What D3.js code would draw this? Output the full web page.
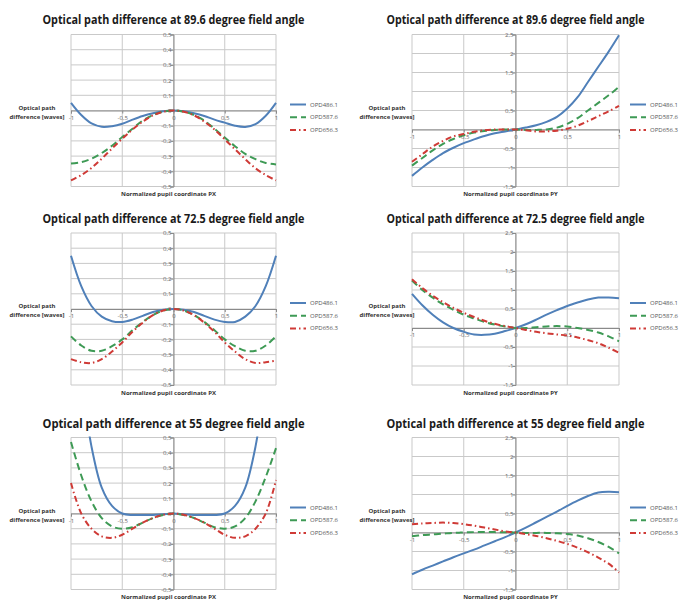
<!DOCTYPE html>
<html><head><meta charset="utf-8">
<script src="https://cdn.jsdelivr.net/npm/d3@7"></script>
<style>body{margin:0;background:#fff}svg{display:block}</style>
</head><body><svg id="c" width="699" height="601"></svg>
<script>
// ---------------- data ----------------
const pupil = [-1,-0.9,-0.8,-0.7,-0.6,-0.5,-0.4,-0.3,-0.2,-0.1,0,0.1,0.2,0.3,0.4,0.5,0.6,0.7,0.8,0.9,1];
const seriesNames = ["OPD486.1","OPD587.6","OPD656.3"];
const panelTitles = [
  "Optical path difference at 89.6 degree field angle",
  "Optical path difference at 89.6 degree field angle",
  "Optical path difference at 72.5 degree field angle",
  "Optical path difference at 72.5 degree field angle",
  "Optical path difference at 55 degree field angle",
  "Optical path difference at 55 degree field angle"
];
const xAxisTitles = ["Normalized pupil coordinate PX","Normalized pupil coordinate PY"];
const yAxisTitle = ["Optical path","difference [waves]"];
const xTicks = [-1,-0.5,0,0.5,1];
const yTicksPX = [-0.5,-0.4,-0.3,-0.2,-0.1,0,0.1,0.2,0.3,0.4,0.5];
const yTicksPY = [-1.5,-1,-0.5,0,0.5,1,1.5,2,2.5];

// 89.6 deg, PX
const a896PX_486 = [0.05,-0.03,-0.085,-0.107,-0.103,-0.087,-0.06,-0.036,-0.018,-0.005,0,-0.005,-0.018,-0.036,-0.06,-0.08,-0.1,-0.108,-0.09,-0.035,0.05];
const a896PX_587 = [-0.349,-0.34,-0.317,-0.28,-0.232,-0.175,-0.12,-0.066,-0.03,-0.008,0,-0.008,-0.03,-0.066,-0.12,-0.178,-0.235,-0.285,-0.32,-0.345,-0.355];
const a896PX_656 = [-0.46,-0.425,-0.378,-0.317,-0.25,-0.186,-0.125,-0.073,-0.032,-0.008,0,-0.008,-0.032,-0.073,-0.125,-0.19,-0.255,-0.32,-0.38,-0.425,-0.46];
// 89.6 deg, PY
const a896PY_486 = [-1.22,-1.0,-0.8,-0.62,-0.48,-0.36,-0.26,-0.17,-0.1,-0.05,0,0.05,0.11,0.2,0.33,0.55,0.85,1.25,1.65,2.05,2.48];
const a896PY_587 = [-0.95,-0.75,-0.55,-0.38,-0.25,-0.15,-0.08,-0.04,-0.01,0,0,-0.01,-0.01,0,0.05,0.15,0.3,0.5,0.7,0.9,1.12];
const a896PY_656 = [-0.85,-0.65,-0.45,-0.3,-0.18,-0.12,-0.06,-0.02,0,0,0,-0.02,-0.05,-0.05,-0.03,0.02,0.1,0.22,0.35,0.48,0.62];
// 72.5 deg, PX
const a725PX_486 = [0.35,0.15,0.02,-0.05,-0.08,-0.085,-0.07,-0.045,-0.02,-0.005,0,-0.005,-0.02,-0.045,-0.07,-0.085,-0.085,-0.05,0.02,0.15,0.35];
const a725PX_587 = [-0.18,-0.24,-0.275,-0.275,-0.245,-0.2,-0.14,-0.085,-0.04,-0.01,0,-0.01,-0.04,-0.085,-0.14,-0.2,-0.245,-0.275,-0.275,-0.24,-0.18];
const a725PX_656 = [-0.33,-0.35,-0.355,-0.33,-0.28,-0.22,-0.15,-0.09,-0.04,-0.01,0,-0.01,-0.04,-0.09,-0.15,-0.22,-0.28,-0.33,-0.355,-0.35,-0.34];
// 72.5 deg, PY
const a725PY_486 = [0.9,0.6,0.35,0.15,0.0,-0.1,-0.17,-0.18,-0.15,-0.08,0,0.1,0.22,0.35,0.47,0.58,0.67,0.75,0.8,0.8,0.78];
const a725PY_587 = [1.25,1.0,0.8,0.62,0.48,0.35,0.25,0.16,0.09,0.04,0,0,0.02,0.04,0.05,0.04,0,-0.05,-0.12,-0.22,-0.35];
const a725PY_656 = [1.28,1.05,0.85,0.68,0.53,0.4,0.29,0.19,0.11,0.05,0,-0.05,-0.1,-0.14,-0.17,-0.2,-0.25,-0.32,-0.4,-0.52,-0.65];
// 55 deg, PX
const a55PX_486 = [1.5,0.9,0.44,0.17,0.05,0.0,-0.01,-0.01,-0.01,-0.005,0,-0.005,-0.01,-0.01,-0.01,0.0,0.05,0.17,0.44,0.9,1.5];
const a55PX_587 = [0.47,0.25,0.08,-0.03,-0.085,-0.1,-0.09,-0.06,-0.03,-0.01,0,-0.01,-0.03,-0.06,-0.09,-0.1,-0.085,-0.03,0.08,0.24,0.43];
const a55PX_656 = [0.2,0.0,-0.1,-0.15,-0.16,-0.14,-0.1,-0.06,-0.03,-0.008,0,-0.008,-0.03,-0.06,-0.1,-0.14,-0.16,-0.15,-0.1,0.0,0.22];
// 55 deg, PY
const a55PY_486 = [-1.1,-0.98,-0.87,-0.76,-0.65,-0.55,-0.45,-0.34,-0.23,-0.12,0,0.13,0.27,0.41,0.55,0.7,0.84,0.96,1.05,1.07,1.06];
const a55PY_587 = [-0.1,-0.07,-0.05,-0.03,-0.01,0,0.01,0.01,0.01,0.005,0,-0.01,-0.01,-0.01,-0.02,-0.04,-0.08,-0.15,-0.25,-0.38,-0.55];
const a55PY_656 = [0.22,0.24,0.25,0.26,0.25,0.22,0.18,0.13,0.08,0.03,0,-0.04,-0.09,-0.15,-0.22,-0.3,-0.4,-0.52,-0.66,-0.82,-1.05];

const panelSeries = [
  [a896PX_486,a896PX_587,a896PX_656],[a896PY_486,a896PY_587,a896PY_656],
  [a725PX_486,a725PX_587,a725PX_656],[a725PY_486,a725PY_587,a725PY_656],
  [a55PX_486,a55PX_587,a55PX_656],[a55PY_486,a55PY_587,a55PY_656]
];

// ---------------- layout / style ----------------
const colX = [{x0:71,x1:276,legX:290,yTitleX:37,titleW:262},{x0:412,x1:619,legX:630,yTitleX:387,titleW:258}];
const rowY = [{top:34.5,title:24},{top:233,title:223},{top:437.5,title:428}];
const plotH = 152;
const colors = ["#5080b9","#3e9a55","#cf3a36"];
const dashes = [null,"7,4","6,3,1.5,3"];
const fmt = v => String(v).replace(".", ",");

const svg = d3.select("#c");
const defs = svg.append("defs");

panelSeries.forEach((series, i) => {
  const c = colX[i % 2], r = rowY[Math.floor(i / 2)];
  const isPY = i % 2 === 1;
  const yTicks = isPY ? yTicksPY : yTicksPX;
  const x = d3.scaleLinear().domain([-1, 1]).range([c.x0, c.x1]);
  const y = d3.scaleLinear().domain([yTicks[0], yTicks[yTicks.length - 1]]).range([r.top + plotH, r.top]);
  const g = svg.append("g");

  // title
  g.append("text").attr("x", (c.x0 + c.x1) / 2).attr("y", r.title)
    .attr("text-anchor", "middle").attr("font-family", "Open Sans, sans-serif")
    .attr("font-weight", 700).attr("font-size", 12).attr("fill", "#1a1a1a")
    .attr("textLength", c.titleW).attr("lengthAdjust", "spacingAndGlyphs")
    .text(panelTitles[i]);

  // grid
  g.append("g").selectAll("line").data(yTicks).join("line")
    .attr("x1", c.x0).attr("x2", c.x1).attr("y1", d => y(d)).attr("y2", d => y(d))
    .attr("stroke", "#c9c9c9").attr("stroke-width", 1);
  g.append("g").selectAll("line").data(xTicks).join("line")
    .attr("x1", d => x(d)).attr("x2", d => x(d)).attr("y1", r.top).attr("y2", r.top + plotH)
    .attr("stroke", "#c9c9c9").attr("stroke-width", 1);

  // axes through zero
  const yAx = d3.axisLeft(y).tickValues(yTicks).tickSize(3).tickFormat(fmt);
  const ya = g.append("g").attr("transform", `translate(${x(0)},0)`).call(yAx);
  const xAx = d3.axisBottom(x).tickValues(xTicks).tickSize(3).tickFormat(fmt);
  const xa = g.append("g").attr("transform", `translate(0,${y(0)})`).call(xAx);
  [ya, xa].forEach(a => {
    a.select(".domain").attr("stroke", "#8a8a8a");
    a.selectAll(".tick line").attr("stroke", "#8a8a8a");
    a.selectAll("text").attr("font-family", "Open Sans, sans-serif").attr("font-size", 6).attr("fill", "#6a6a6a");
  });
  ya.selectAll("text").attr("x", -2);
  xa.selectAll("text").attr("y", 5);

  // clip
  const cid = "clip" + i;
  defs.append("clipPath").attr("id", cid).append("rect")
    .attr("x", c.x0 - 2).attr("y", r.top - 1).attr("width", c.x1 - c.x0 + 4).attr("height", plotH + 2);

  const line = d3.line().x((d, k) => x(pupil[k])).y(d => y(d)).curve(d3.curveCatmullRom.alpha(0.5));
  series.forEach((s, k) => {
    g.append("path").attr("clip-path", `url(#${cid})`).attr("d", line(s))
      .attr("fill", "none").attr("stroke", colors[k]).attr("stroke-width", 2)
      .attr("stroke-dasharray", dashes[k]);
  });

  // axis titles
  g.append("text").attr("x", (c.x0 + c.x1) / 2 - 5).attr("y", r.top + plotH + 9.5)
    .attr("text-anchor", "middle").attr("font-family", "Open Sans, sans-serif")
    .attr("font-weight", 700).attr("font-size", 6).attr("fill", "#333").text(xAxisTitles[i % 2]);
  const yt = g.append("text").attr("text-anchor", "middle").attr("font-family", "Open Sans, sans-serif")
    .attr("font-weight", 700).attr("font-size", 6).attr("fill", "#333");
  yAxisTitle.forEach((t, k) => yt.append("tspan").attr("x", c.yTitleX).attr("y", r.top + 75 + k * 9).text(t));

  // legend
  const ly0 = r.top + 70;
  seriesNames.forEach((nm, k) => {
    const yy = ly0 + k * 12.7;
    g.append("line").attr("x1", c.legX).attr("x2", c.legX + 16).attr("y1", yy).attr("y2", yy)
      .attr("stroke", colors[k]).attr("stroke-width", 2).attr("stroke-dasharray", dashes[k]);
    g.append("text").attr("x", c.legX + 20).attr("y", yy + 2).attr("font-family", "Open Sans, sans-serif")
      .attr("font-size", 6).attr("fill", "#555").text(nm);
  });
});
</script></body></html>
